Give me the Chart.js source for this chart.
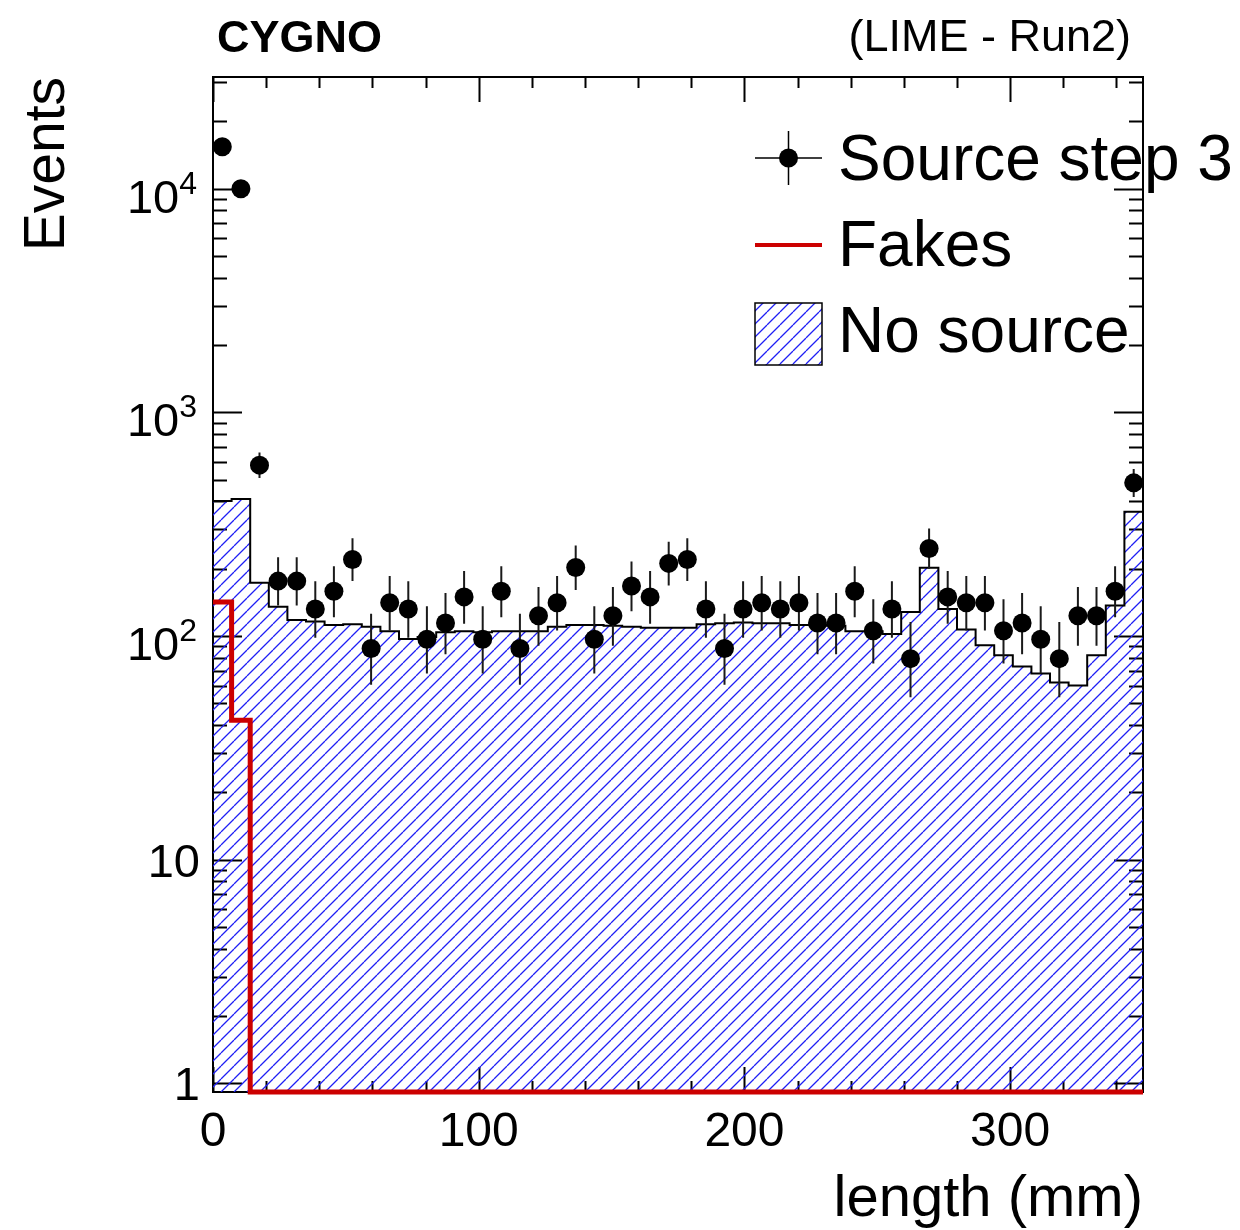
<!DOCTYPE html>
<html>
<head>
<meta charset="utf-8">
<script src="https://cdn.jsdelivr.net/npm/chart.js@4.4.1/dist/chart.umd.min.js"></script>
<style>
  html, body { margin: 0; padding: 0; background: #fff; }
</style>
</head>
<body>
<canvas id="lengthChart" width="1240" height="1230"></canvas>
<script>
// track length histogram, 7 mm bins from 0 to 350 mm
var binWidth = 7;
var xMax = 350;
var xTickLabels = [0, 100, 200, 300];

// weighted events per bin (each event counts 8.8)
var eventWeight = 8.8;
var sourceStep3 = [15400, 10000, 580.8, 176, 176, 132, 158.4, 220, 88, 140.8,
                   132, 96.8, 114.4, 149.6, 96.8, 158.4, 88, 123.2, 140.8, 202.4,
                   96.8, 123.2, 167.2, 149.6, 211.2, 220, 132, 88, 132, 140.8,
                   132, 140.8, 114.4, 114.4, 158.4, 105.6, 132, 79.2, 246.4, 149.6,
                   140.8, 140.8, 105.6, 114.4, 96.8, 79.2, 123.2, 123.2, 158.4, 484];
var noSource = [402, 410, 173, 135, 118, 116, 112, 113, 110, 105,
                97, 99, 104, 105, 104, 105, 105, 105, 110, 112,
                112, 111, 110, 109, 109, 109, 113, 114, 115, 114,
                114, 112, 112, 111, 105, 105, 102, 128, 202, 132,
                107, 91, 82, 73, 68, 62, 60, 82, 137, 359];
var fakes = [142, 42, 0, 0, 0, 0, 0, 0, 0, 0,
             0, 0, 0, 0, 0, 0, 0, 0, 0, 0,
             0, 0, 0, 0, 0, 0, 0, 0, 0, 0,
             0, 0, 0, 0, 0, 0, 0, 0, 0, 0,
             0, 0, 0, 0, 0, 0, 0, 0, 0, 0];
var yMin = 0.914;
var yMax = 31600;
var yDecades = [1, 10, 100, 1000, 10000];

var font = '"Liberation Sans", Arial, Helvetica, sans-serif';

// step histogram points on the bin edges, last edge repeats the last bin;
// empty bins sit on the axis floor since log scales drop zeros
function stepPoints(values) {
  var pts = values.map(function (v, i) { return { x: i * binWidth, y: Math.max(v, yMin) }; });
  pts.push({ x: values.length * binWidth, y: Math.max(values[values.length - 1], yMin) });
  return pts;
}

// approximate poisson interval (Gehrels) on the unweighted count
function poissonErrors(v) {
  var n = v / eventWeight;
  return {
    low: Math.sqrt(Math.max(n - 0.25, 0)) * eventWeight,
    high: (Math.sqrt(n + 0.75) + 1) * eventWeight
  };
}

var canvas = document.getElementById('lengthChart');
var ctx = canvas.getContext('2d');

function hatch(color) {
  var s = 13;
  var c = document.createElement('canvas');
  c.width = s; c.height = s;
  var g = c.getContext('2d');
  g.strokeStyle = color;
  g.lineWidth = 1.3;
  g.beginPath();
  [-s, 0, s].forEach(function (o) { g.moveTo(o, s); g.lineTo(o + s, 0); });
  g.stroke();
  return ctx.createPattern(c, 'repeat');
}
var hatchFill = hatch('#1f1ff5');

var rootStyle = {
  id: 'rootStyle',
  beforeDatasetsDraw: function (chart) {
    var a = chart.chartArea, xs = chart.scales.x, ys = chart.scales.y;
    var c = chart.ctx;
    c.save();
    c.strokeStyle = '#000';
    c.lineWidth = 2;
    c.strokeRect(a.left, a.top, a.right - a.left, a.bottom - a.top);
    c.beginPath();
    for (var v = 0; v < xMax; v += 20) {
      var px = Math.round(xs.getPixelForValue(v)) + 0.5;
      var len = v % 100 === 0 ? 25 : 11;
      c.moveTo(px, a.bottom); c.lineTo(px, a.bottom - len);
      c.moveTo(px, a.top); c.lineTo(px, a.top + len);
    }
    yDecades.concat([100000]).forEach(function (d) {
      for (var m = 1; m <= 9; m++) {
        var val = d * m;
        if (val < yMin || val > yMax) continue;
        var py = Math.round(ys.getPixelForValue(val)) + 0.5;
        var l = m === 1 ? 29 : 14;
        c.moveTo(a.left, py); c.lineTo(a.left + l, py);
        c.moveTo(a.right, py); c.lineTo(a.right - l, py);
      }
    });
    c.lineWidth = 2;
    c.stroke();
    c.restore();
  },
  beforeDatasetDraw: function (chart, args) {
    if (args.index !== 0) return;
    var xs = chart.scales.x, ys = chart.scales.y, c = chart.ctx;
    c.save();
    c.strokeStyle = '#1a1a1a';
    c.lineWidth = 2;
    c.beginPath();
    sourceStep3.forEach(function (v, i) {
      var e = poissonErrors(v);
      var px = xs.getPixelForValue((i + 0.5) * binWidth);
      c.moveTo(px, ys.getPixelForValue(v + e.high));
      c.lineTo(px, ys.getPixelForValue(Math.max(v - e.low, yMin)));
    });
    c.stroke();
    c.restore();
  },
  afterDraw: function (chart) {
    var a = chart.chartArea, xs = chart.scales.x, ys = chart.scales.y, c = chart.ctx;
    c.save();
    c.fillStyle = '#000';
    // x tick labels
    c.font = '48px ' + font;
    c.textAlign = 'center';
    c.textBaseline = 'alphabetic';
    xTickLabels.forEach(function (v) {
      c.fillText(String(v), xs.getPixelForValue(v), 1146);
    });
    // y tick labels, powers of ten with raised exponent
    c.textAlign = 'right';
    yDecades.forEach(function (d) {
      var py = ys.getPixelForValue(d);
      var exp = Math.round(Math.log10(d));
      if (exp < 2) {
        c.font = '47px ' + font;
        c.fillText(String(d), 200, py + 17);
      } else {
        c.font = '32px ' + font;
        var ew = c.measureText(String(exp)).width;
        c.fillText(String(exp), 197, py + 5);
        c.font = '47px ' + font;
        c.fillText('10', 197 - ew, py + 24);
      }
    });
    // axis titles
    c.font = '58px ' + font;
    c.textAlign = 'right';
    c.fillText('length (mm)', a.right, 1216);
    c.save();
    c.translate(64, a.top);
    c.rotate(-Math.PI / 2);
    c.font = '57px ' + font;
    c.fillText('Events', 0, 0);
    c.restore();
    // header
    c.textAlign = 'left';
    c.font = 'bold 45px ' + font;
    c.fillText('CYGNO', 217, 52);
    c.textAlign = 'right';
    c.font = '45px ' + font;
    c.fillText('(LIME - Run2)', 1131, 51);
    // legend
    c.textAlign = 'left';
    c.font = '64px ' + font;
    c.fillText('Source step 3', 838, 180);
    c.fillText('Fakes', 838, 266);
    c.fillText('No source', 838, 352);
    c.strokeStyle = '#000';
    c.lineWidth = 1.5;
    c.beginPath();
    c.moveTo(755, 158); c.lineTo(822, 158);
    c.moveTo(788.5, 131); c.lineTo(788.5, 185);
    c.stroke();
    c.beginPath();
    c.arc(788.5, 158, 9.5, 0, Math.PI * 2);
    c.fill();
    c.strokeStyle = '#cc0000';
    c.lineWidth = 4;
    c.beginPath();
    c.moveTo(755, 245); c.lineTo(822, 245);
    c.stroke();
    c.fillStyle = hatchFill;
    c.fillRect(755, 303, 67, 62);
    c.strokeStyle = '#000';
    c.lineWidth = 1.5;
    c.strokeRect(755, 303, 67, 62);
    c.restore();
  }
};

new Chart(ctx, {
  type: 'line',
  data: {
    datasets: [{
      label: 'Source step 3',
      data: sourceStep3.map(function (v, i) { return { x: (i + 0.5) * binWidth, y: v }; }),
      showLine: false,
      pointRadius: 9.5,
      pointBorderWidth: 0,
      pointBackgroundColor: '#000',
      pointBorderColor: '#000'
    }, {
      label: 'Fakes',
      data: stepPoints(fakes),
      stepped: 'before',
      borderColor: '#cc0000',
      borderWidth: 5,
      pointRadius: 0,
      fill: false,
      clip: false
    }, {
      label: 'No source',
      data: stepPoints(noSource),
      stepped: 'before',
      borderColor: '#000',
      borderWidth: 2,
      pointRadius: 0,
      backgroundColor: hatchFill,
      fill: 'start'
    }]
  },
  options: {
    responsive: false,
    animation: false,
    layout: { padding: { left: 213, right: 97, top: 77, bottom: 138 } },
    plugins: { legend: { display: false }, tooltip: { enabled: false } },
    scales: {
      x: { type: 'linear', min: 0, max: xMax, display: false },
      y: { type: 'logarithmic', min: yMin, max: yMax, display: false, bounds: 'data' }
    }
  },
  plugins: [rootStyle]
});
</script>
</body>
</html>
